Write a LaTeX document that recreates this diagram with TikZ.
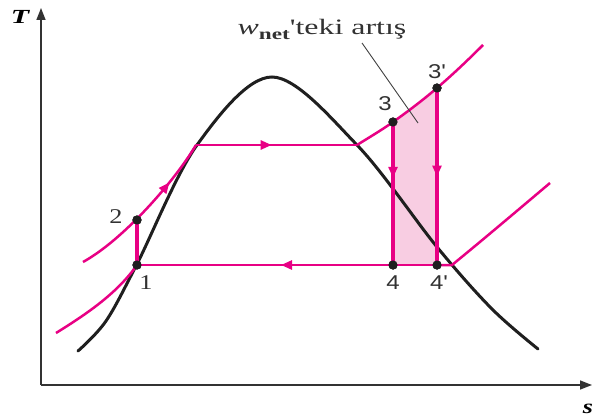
\documentclass[tikz,border=0pt]{standalone}
\usepackage{fontspec}
\usepackage{graphicx}
\setmainfont{Liberation Serif}
\newfontfamily\lsans{Liberation Sans}
\usetikzlibrary{arrows.meta,decorations.markings}
\definecolor{pk}{RGB}{232,0,132}
\definecolor{pkfill}{RGB}{248,205,226}
\definecolor{lbl}{RGB}{50,50,50}
\begin{document}
\begin{tikzpicture}[x={(0.5pt,0)},y={(0,-0.5pt)},
  pkline/.style={draw=pk,line width=1.25pt},
  pkthick/.style={draw=pk,line width=1.6pt},
  domeline/.style={draw=black!88,line width=1.5pt,line cap=round},
  axis/.style={draw=black!80,line width=0.7pt,-{Triangle[length=6pt,width=4.5pt]}},
  dot/.style={circle,fill=black!88,inner sep=0pt,minimum size=4.6pt},
  midarrow/.style={postaction={decorate},decoration={markings,
     mark=at position #1 with {\arrow{Triangle[length=5.5pt,width=4.5pt]}}}},
  numsans/.style={font=\lsans\fontsize{10}{12}\selectfont,text=lbl,inner sep=0pt},
  numserif/.style={font=\fontsize{10.5}{12}\selectfont,text=lbl,inner sep=0pt},
  leader/.style={draw=black!75,line width=0.45pt}
]
\useasboundingbox (0,0) rectangle (594,417);

% axes
\coordinate (O) at (41,385);
\coordinate (Ytop) at (41,8);
\coordinate (Xend) at (592,385);
\draw[axis] (O) -- (Ytop);
\draw[axis] (O) -- (Xend);
\node[inner sep=0pt,font=\bfseries\itshape\fontsize{10}{12}\selectfont] (Tl) at (20,17) {\scalebox{1.5}[1]{T}};
\node[inner sep=0pt,font=\bfseries\itshape\fontsize{10}{12}\selectfont] (Sl) at (588,409) {\scalebox{1.3}[1]{s}};

% state points
\node[dot] (p1) at (137,265) {};
\node[dot] (p2) at (137,220) {};
\node[dot] (p3) at (393,122) {};
\node[dot] (p3p) at (437,88) {};
\node[dot] (p4) at (393,265) {};
\node[dot] (p4p) at (437,265) {};
\coordinate (k1) at (196,145);
\coordinate (k2) at (357,145);
\coordinate (hiEnd) at (483,45);
\coordinate (loStart) at (56,333);
\coordinate (hiStart) at (83,262);
\coordinate (shStart) at (452,265);
\coordinate (shEnd) at (550,183);

% shaded area
\fill[pkfill] (p3.center) .. controls (407.7,111.5) and (422.3,100.6) .. (p3p.center)
   -- (p4p.center) -- (p4.center) -- cycle;

% dome
\draw[domeline] plot[smooth,tension=0.55] coordinates {(78,351) (106,321) (137,264) (197,145) (272,77) (357,145) (437,247) (492,309) (538,349)};

% low pressure isobar (liquid part)
\draw[pkline] (loStart) .. controls (90,312) and (118,292) .. (p1.center);
% high pressure isobar (liquid part) with arrow
\draw[pkline,midarrow=0.72] (hiStart) .. controls (123,240) and (174,182) .. (k1);
% boiling line
\draw[pkline,midarrow=0.47] (k1) -- (k2);
% superheat high pressure
\draw[pkline] (k2) .. controls (369,137.5) and (381,130.5) .. (p3.center)
   .. controls (407.7,111.5) and (422.3,100.6) .. (p3p.center)
   .. controls (452.3,74.9) and (467.7,60.3) .. (hiEnd);
% condensation line
\draw[pkline,midarrow=0.52] (p4p.center) -- (p1.center);
\draw[pkline] (p4p.center) -- (shStart) .. controls (485,238) and (518,210) .. (shEnd);
% pump
\draw[draw=pk,line width=2.1pt] (p1.center) -- (p2.center);
% turbines
\draw[pkthick,midarrow=0.39] (p3.center) -- (p4.center);
\draw[pkthick,midarrow=0.5] (p3p.center) -- (p4p.center);

% dots on top
\foreach \p in {p1,p2,p3,p3p,p4,p4p} \fill[black!88] (\p) circle (2.3pt);

% labels
\node[numserif] (l2) at (116,217) {\scalebox{1.25}[1]{2}};
\node[numserif] (l1) at (146,283) {\scalebox{1.25}[1]{1}};
\node[numsans] (l3) at (385,104) {\scalebox{1.2}[1]{3}};
\node[numsans] (l3p) at (437,72) {\scalebox{1.2}[1]{3\textquotesingle}};
\node[numsans] (l4) at (393,283) {\scalebox{1.2}[1]{4}};
\node[numsans] (l4p) at (439,283) {\scalebox{1.2}[1]{4\textquotesingle}};

% annotation
\node[inner sep=0pt,anchor=base,text=lbl,font=\fontsize{11}{13}\selectfont] (ann) at (322,35)
  {\scalebox{1.45}[1]{\itshape w\raisebox{-0.4ex}{\upshape\bfseries\fontsize{8}{9}\selectfont net}\upshape\textquotesingle teki artış}};
\coordinate (leadA) at (362,43);
\coordinate (leadB) at (418,123);
\draw[leader] (leadA) -- (leadB);
\end{tikzpicture}
\end{document}
